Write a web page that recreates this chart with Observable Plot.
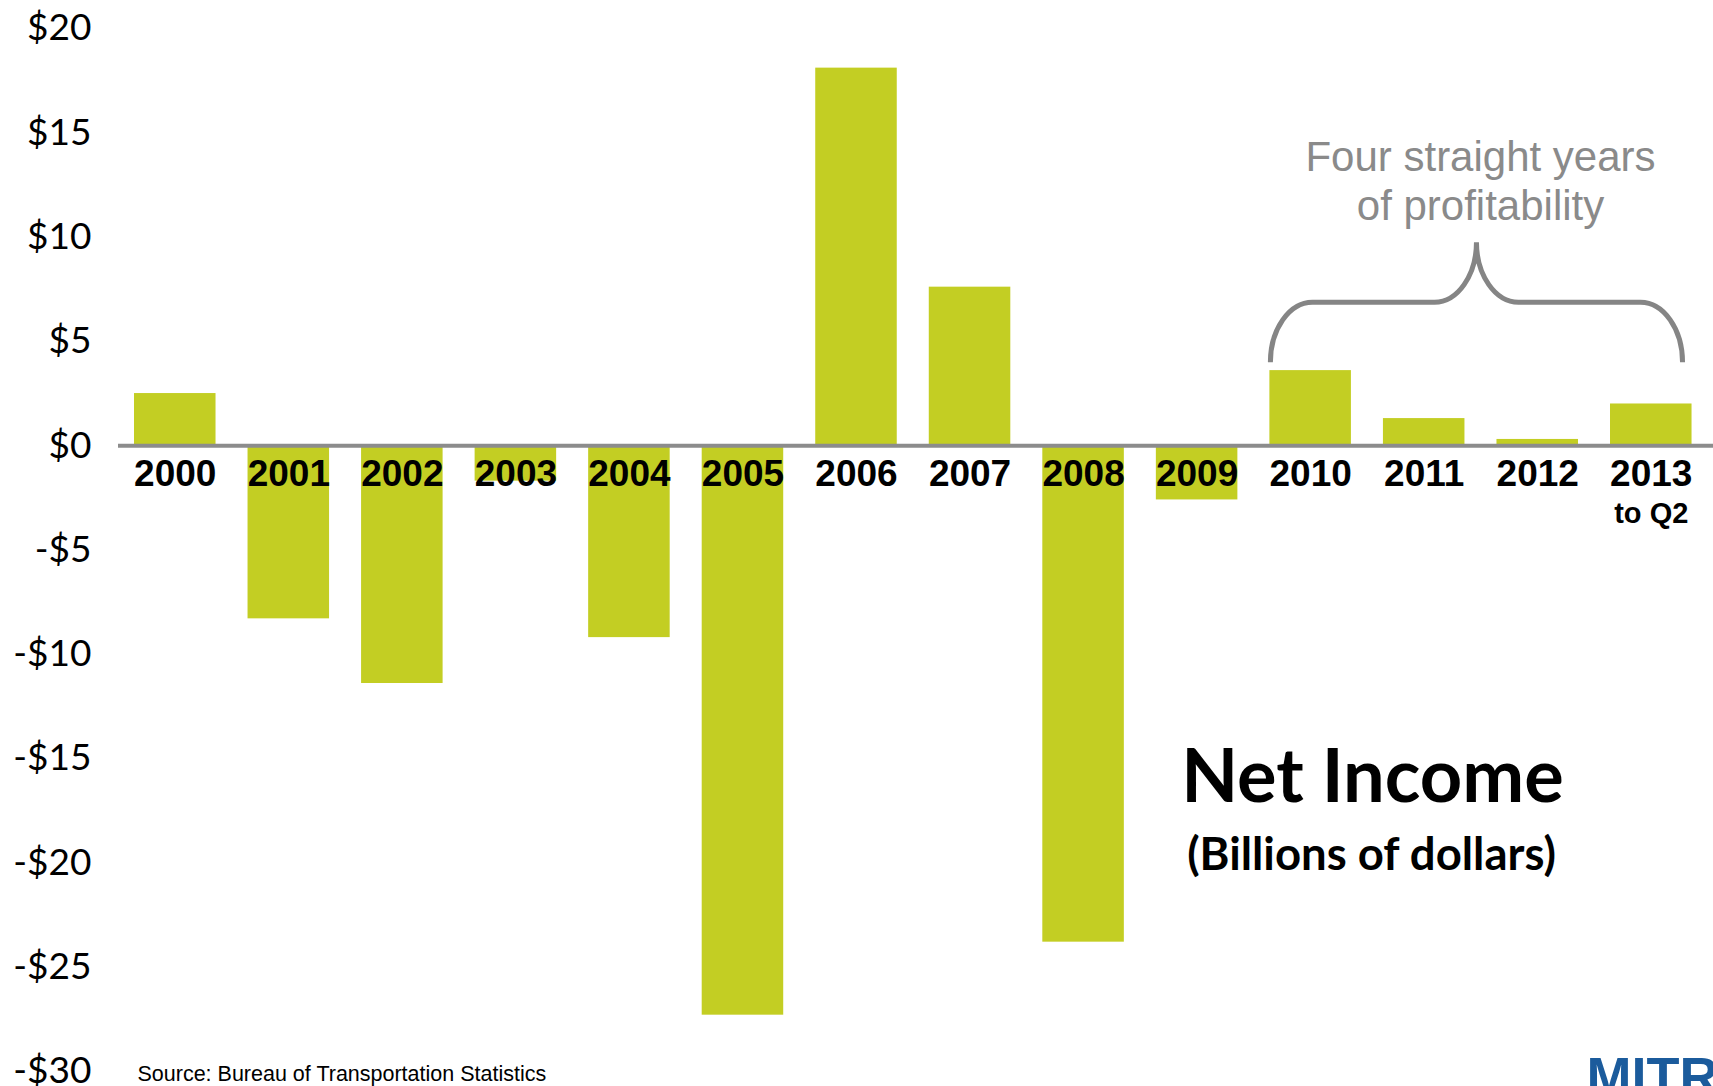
<!DOCTYPE html>
<html>
<head>
<meta charset="utf-8">
<script src="https://cdn.jsdelivr.net/npm/d3@7"></script>
<script src="https://cdn.jsdelivr.net/npm/@observablehq/plot@0.6"></script>
<style>
  html, body { margin: 0; padding: 0; background: #ffffff; overflow: hidden; }
  #chart svg { display: block; overflow: hidden; }
</style>
</head>
<body>
<div id="chart"></div>
<script>
// ---- Data ----
const years = ["2000", "2001", "2002", "2003", "2004", "2005", "2006", "2007", "2008", "2009", "2010", "2011", "2012", "2013"];
const netIncome = [2.5, -8.3, -11.4, -1.7, -9.2, -27.3, 18.1, 7.6, -23.8, -2.6, 3.6, 1.3, 0.3, 2.0];
const yTicks = [20, 15, 10, 5, 0, -5, -10, -15, -20, -25, -30];
const yearSubLabels = [{year: "2013", text: "to Q2"}];
const braceYears = ["2010", "2013"];
const annotationText = ["Four straight years\nof profitability"];
const titleText = ["Net Income"];
const subtitleText = ["(Billions of dollars)"];
const sourceText = ["Source: Bureau of Transportation Statistics"];
const logoText = ["MITRE"];

const data = years.map((year, i) => ({year, value: netIncome[i]}));

const W = 1713, H = 1086;
const ML = 118, MT = 28, MR = 0, MB = 15;

const barColor = "#c3ce23";
const gray = "#8a8a8a";

// Brace: custom mark drawn from the x band scale (2010 left edge to 2013 right edge)
function braceMark(index, scales) {
  const x = scales.x, y = scales.y;
  const bw = x.bandwidth ? x.bandwidth() : 81;
  const x0 = x(braceYears[0]) + 1;
  const x1 = x(braceYears[1]) + bw - 9;
  const yE = y(0) - 83;   // ends of brace
  const yH = yE - 60;     // horizontal arms
  const yP = yH - 60;     // peak
  const xm = (x0 + x1) / 2;
  const k = 0.55;
  const dxE = 42, dxP = 42;
  const d = [
    `M${x0},${yE}`,
    `C${x0},${yE - k * (yE - yH)} ${x0 + dxE - k * dxE},${yH} ${x0 + dxE},${yH}`,
    `L${xm - dxP},${yH}`,
    `C${xm - dxP + k * dxP},${yH} ${xm},${yP + k * (yH - yP)} ${xm},${yP}`,
    `C${xm},${yP + k * (yH - yP)} ${xm + dxP - k * dxP},${yH} ${xm + dxP},${yH}`,
    `L${x1 - dxE},${yH}`,
    `C${x1 - dxE + k * dxE},${yH} ${x1},${yE - k * (yE - yH)} ${x1},${yE}`
  ].join(" ");
  const g = d3.create("svg:path")
    .attr("d", d)
    .attr("fill", "none")
    .attr("stroke", "#858585")
    .attr("stroke-width", 5)
    .attr("stroke-linecap", "butt");
  return g.node();
}

const chart = Plot.plot({
  width: W,
  height: H,
  marginLeft: ML,
  marginTop: MT,
  marginRight: MR,
  marginBottom: MB,
  style: {fontFamily: "Lato, 'Open Sans', sans-serif", fontSize: "37px", color: "#000", background: "#ffffff"},
  x: {type: "band", domain: years, paddingInner: 0.282, paddingOuter: 0.165, align: 0.427, round: false, axis: null},
  y: {domain: [-30, 20], label: null},
  marks: [
    Plot.axisY({ticks: yTicks, tickFormat: d => (d < 0 ? "-$" : "$") + Math.abs(d), tickSize: 0, tickPadding: 27, label: null, fontSize: 37, fill: "#000"}),
    Plot.barY(data, {x: "year", y1: 0, y2: "value", fill: barColor}),
    Plot.ruleY([0], {stroke: "#8c8c8c", strokeWidth: 4}),
    Plot.text(data, {x: "year", y: 0, text: "year", dy: 28, lineAnchor: "middle", fontFamily: "'Liberation Sans', Arial, sans-serif", fontWeight: "bold", fontSize: 37, fill: "#000"}),
    Plot.text(yearSubLabels, {x: "year", y: 0, text: "text", dy: 68, lineAnchor: "middle", fontFamily: "'Liberation Sans', Arial, sans-serif", fontWeight: "bold", fontSize: 29, fill: "#000"}),
    braceMark,
    Plot.text(annotationText, {frameAnchor: "top-left", dx: 1480 - ML, dy: 179 - MT, text: d => d, textAnchor: "middle", lineAnchor: "middle", lineHeight: 1.19, fontFamily: "'Liberation Sans', Arial, sans-serif", fontSize: 42, fill: gray}),
    Plot.text(titleText, {frameAnchor: "top-left", dx: 1372 - ML, dy: 778 - MT, text: d => d, textAnchor: "middle", lineAnchor: "middle", fontFamily: "Lato, sans-serif", fontWeight: "bold", fontSize: 74, fill: "#000"}),
    Plot.text(subtitleText, {frameAnchor: "top-left", dx: 1371 - ML, dy: 855 - MT, text: d => d, textAnchor: "middle", lineAnchor: "middle", fontFamily: "Lato, sans-serif", fontWeight: "bold", fontSize: 45.5, fill: "#000"}),
    Plot.text(sourceText, {frameAnchor: "top-left", dx: 137 - ML, dy: 1074 - MT, text: d => d, textAnchor: "start", lineAnchor: "middle", fontFamily: "'Liberation Sans', Arial, sans-serif", fontSize: 21.5, fill: "#000"}),
    Plot.text(logoText, {frameAnchor: "top-left", dx: 1586 - ML, dy: 1056 - MT, text: d => d, textAnchor: "start", lineAnchor: "top", fontFamily: "'Liberation Sans', Arial, sans-serif", fontWeight: "bold", fontSize: 54, fill: "#1b5b9c"})
  ]
});

document.getElementById("chart").appendChild(chart);
</script>
</body>
</html>
